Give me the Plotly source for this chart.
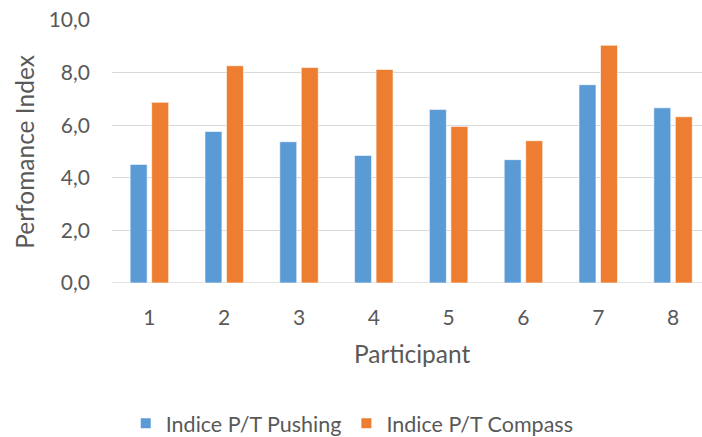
import plotly.graph_objects as go

participants = ["1", "2", "3", "4", "5", "6", "7", "8"]
pushing = [4.51, 5.76, 5.37, 4.85, 6.60, 4.69, 7.54, 6.66]
compass = [6.87, 8.26, 8.19, 8.12, 5.95, 5.41, 9.04, 6.32]
y_ticks = [0, 2, 4, 6, 8, 10]
y_tick_labels = ["0,0", "2,0", "4,0", "6,0", "8,0", "10,0"]

W, H = 702, 437
L, R, T, B = 111.6, 0, 19.5, 154.3
pw, ph = W - L - R, H - T - B
FONT = "Lato"
GRAY = "#595959"

fig = go.Figure()
fig.add_trace(go.Bar(x=participants, y=pushing, name="Indice P/T Pushing",
                     marker=dict(color="#5B9BD5", line=dict(color="#FFFFFF", width=0.6))))
fig.add_trace(go.Bar(x=participants, y=compass, name="Indice P/T Compass",
                     marker=dict(color="#ED7D31", line=dict(color="#FFFFFF", width=0.6))))

def px(xp):
    return (xp - L) / pw

def py(yp):
    return (H - B - yp) / ph

fig.update_layout(
    width=W, height=H,
    margin=dict(l=L, r=R, t=T, b=B, autoexpand=False),
    paper_bgcolor="white", plot_bgcolor="white",
    barmode="group", bargap=0.425, bargroupgap=0.21,
    font=dict(family=FONT, color=GRAY, size=21),
    showlegend=True,
    legend=dict(orientation="h", x=px(352), y=py(423), xanchor="center", yanchor="middle",
                font=dict(size=21.5, color=GRAY), itemsizing="constant",
                traceorder="normal", itemwidth=30, bgcolor="rgba(0,0,0,0)"),
    xaxis=dict(range=[-0.5, 7.387], showgrid=False, zeroline=False, showline=False,
               ticks="", ticklabelstandoff=20,
               tickfont=dict(size=21, color=GRAY), automargin=False),
    yaxis=dict(range=[0, 10], tickvals=y_ticks, ticktext=y_tick_labels,
               showgrid=True, gridcolor="#D9D9D9", gridwidth=1.3, zeroline=False,
               showline=False, ticks="", ticklabelstandoff=21,
               tickfont=dict(size=21, color=GRAY), automargin=False),
    annotations=[
        dict(text="Participant", x=px(412), y=py(353), xref="paper", yref="paper",
             showarrow=False, font=dict(size=24.5, color=GRAY), xanchor="center", yanchor="middle"),
        dict(text="Perfomance Index", x=px(24), y=py(151), xref="paper", yref="paper",
             showarrow=False, textangle=-90, font=dict(size=24.5, color=GRAY),
             xanchor="center", yanchor="middle"),
    ],
)
fig.add_shape(type="line", xref="paper", yref="y", x0=0, x1=1, y0=0, y1=0,
              line=dict(color="#D9D9D9", width=1.3), layer="below")

fig.write_html("out.html", config={"displayModeBar": False},
               post_script="document.body.style.margin='0';document.body.style.padding='0';")
